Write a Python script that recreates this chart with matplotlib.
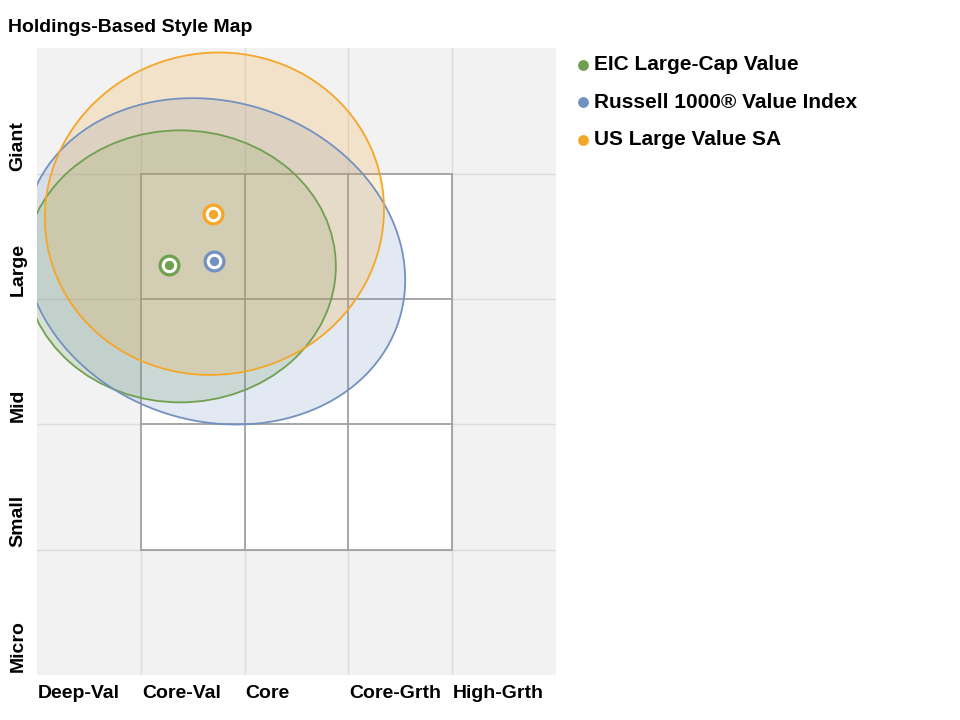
import matplotlib.pyplot as plt
from matplotlib.patches import Ellipse, Rectangle

plt.rcParams["font.family"] = ["Liberation Sans", "DejaVu Sans"]

names = ["EIC Large-Cap Value", "Russell 1000® Value Index", "US Large Value SA"]
colors = ["#6fa050", "#7391c0", "#f5a628"]
centers_x = [1.27, 1.71, 1.70]
centers_y = [3.27, 3.30, 3.68]
ell_x = [1.38, 1.71, 1.71]
ell_y = [3.26, 3.30, 3.68]
ell_w = [3.00, 3.70, 3.27]
ell_h = [2.17, 2.57, 2.57]
ell_angle = [0, -9, 3]

x_labels = ["Deep-Val", "Core-Val", "Core", "Core-Grth", "High-Grth"]
y_labels = ["Micro", "Small", "Mid", "Large", "Giant"]

fig = plt.figure(figsize=(9.6, 7.2), dpi=100)
ax = fig.add_axes([0.0385, 0.0625, 0.5405, 0.8705])
ax.set_xlim(0, 5)
ax.set_ylim(0, 5)
ax.set_facecolor("#f2f2f2")
for s in ax.spines.values():
    s.set_visible(False)
ax.set_xticks([])
ax.set_yticks([])

for v in range(1, 5):
    ax.axvline(v, color="#dcdcdc", lw=1, zorder=0)
    ax.axhline(v, color="#dcdcdc", lw=1, zorder=0)
ax.add_patch(Rectangle((1, 1), 3, 3, facecolor="white", edgecolor="none", zorder=0.5))
for v in range(1, 5):
    ax.plot([v, v], [1, 4], color="#a0a0a0", lw=1.3, zorder=1)
    ax.plot([1, 4], [v, v], color="#a0a0a0", lw=1.3, zorder=1)

for i in range(3):
    ax.add_patch(Ellipse((ell_x[i], ell_y[i]), ell_w[i], ell_h[i], angle=ell_angle[i],
                         facecolor=colors[i], alpha=0.2, edgecolor="none", zorder=2))
    ax.add_patch(Ellipse((ell_x[i], ell_y[i]), ell_w[i], ell_h[i], angle=ell_angle[i],
                         facecolor="none", edgecolor=colors[i], lw=1.3, zorder=3))
for i in range(3):
    ax.scatter(centers_x[i], centers_y[i], s=220, color=colors[i], zorder=4)
    ax.scatter(centers_x[i], centers_y[i], s=80, color=colors[i], edgecolor="white",
               linewidth=2.2, zorder=5)

for i, lab in enumerate(x_labels):
    ax.text(i + 0.01, -0.08, lab, ha="left", va="top", fontsize=14, fontweight="bold")
for i, lab in enumerate(y_labels):
    ax.text(-0.1, i + 0.02, lab, ha="right", va="bottom", rotation=90,
            fontsize=14, fontweight="bold")

fig.text(0.008, 0.962, "Holdings-Based Style Map", ha="left", va="center",
         fontsize=14, fontweight="bold")

for i, n in enumerate(names):
    y = 0.91 - i * 0.052
    fig.add_artist(plt.Line2D([0.607], [y], marker="o", markersize=9, color=colors[i],
                              markeredgecolor="white", markeredgewidth=1.2,
                              transform=fig.transFigure))
    fig.text(0.619, y, n, ha="left", va="center", fontsize=15, fontweight="bold")

fig.savefig("out.png", dpi=100)
